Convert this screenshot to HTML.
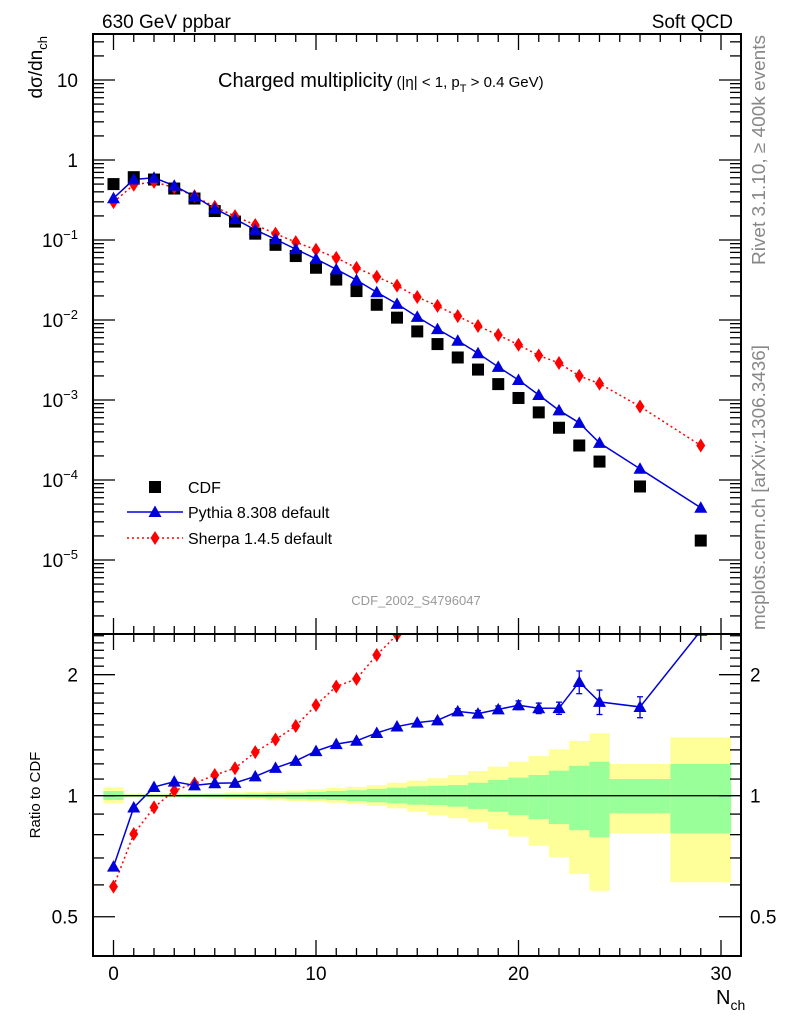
<!DOCTYPE html>
<html><head><meta charset="utf-8"><style>
body{margin:0;background:#fff;}
svg{display:block;font-family:"Liberation Sans",sans-serif;}
</style></head><body>
<svg id="c" width="786" height="1024" viewBox="0 0 786 1024">
<text x="102" y="28" font-size="19">630 GeV ppbar</text>
<text x="733" y="28" font-size="19" text-anchor="end">Soft QCD</text>
<text x="218" y="87" font-size="20">Charged multiplicity<tspan font-size="15" dx="4">(|η| &lt; 1, p</tspan><tspan font-size="11" dy="5">T</tspan><tspan font-size="15" dy="-5"> &gt; 0.4 GeV)</tspan></text>
<text transform="translate(42,36) rotate(-90)" font-size="19" text-anchor="end">dσ/dn<tspan font-size="13" dy="5">ch</tspan></text>
<text transform="translate(40,795) rotate(-90)" font-size="15" text-anchor="middle">Ratio to CDF</text>
<text transform="translate(765,265) rotate(-90)" font-size="18.5" fill="#888" textLength="230" lengthAdjust="spacingAndGlyphs">Rivet 3.1.10, ≥ 400k events</text>
<text transform="translate(765,630) rotate(-90)" font-size="18.5" fill="#888" textLength="285" lengthAdjust="spacingAndGlyphs">mcplots.cern.ch [arXiv:1306.3436]</text>
<text x="416" y="605" font-size="13" fill="#999" text-anchor="middle">CDF_2002_S4796047</text>
<text x="716" y="1004" font-size="20">N<tspan font-size="14" dy="6">ch</tspan></text>
<g id="g"></g>
</svg>
<script>
const nch=[0,1,2,3,4,5,6,7,8,9,10,11,12,13,14,15,16,17,18,19,20,21,22,23,24,26,29];
const cdf=[0.50,0.61,0.57,0.44,0.33,0.23,0.17,0.12,0.087,0.063,0.045,0.032,0.023,0.0155,0.0107,0.0072,0.0050,0.0034,0.0024,0.00158,0.00106,0.00070,0.00045,0.00027,0.00017,0.000083,0.0000175];
const pythia=[0.333,0.570,0.599,0.477,0.350,0.247,0.183,0.134,0.102,0.0769,0.0581,0.0430,0.0315,0.0222,0.0159,0.01094,0.0077,0.00551,0.00384,0.00259,0.00178,0.001155,0.000743,0.000518,0.000291,0.000138,0.000045];
const pythiaErr=[0.005,0.005,0.005,0.005,0.005,0.005,0.005,0.006,0.006,0.007,0.008,0.009,0.01,0.01,0.012,0.013,0.014,0.016,0.018,0.02,0.025,0.03,0.035,0.065,0.07,0.06,0];
const sherpa=[0.297,0.49,0.533,0.453,0.354,0.259,0.199,0.154,0.120,0.0939,0.0756,0.0598,0.0449,0.0347,0.0269,0.0194,0.0150,0.0112,0.0084,0.0065,0.0049,0.0036,0.0029,0.0020,0.0016,0.00083,0.00027];
const binLo=[-0.5,0.5,1.5,2.5,3.5,4.5,5.5,6.5,7.5,8.5,9.5,10.5,11.5,12.5,13.5,14.5,15.5,16.5,17.5,18.5,19.5,20.5,21.5,22.5,23.5,24.5,27.5];
const binHi=[0.5,1.5,2.5,3.5,4.5,5.5,6.5,7.5,8.5,9.5,10.5,11.5,12.5,13.5,14.5,15.5,16.5,17.5,18.5,19.5,20.5,21.5,22.5,23.5,24.5,27.5,30.5];
const yelUp=[1.049,1.012,1.012,1.012,1.014,1.016,1.019,1.022,1.026,1.031,1.037,1.045,1.052,1.062,1.077,1.09,1.105,1.126,1.152,1.181,1.215,1.255,1.305,1.369,1.43,1.199,1.397];
const yelDn=[0.957,0.99,0.99,0.99,0.988,0.985,0.982,0.978,0.974,0.97,0.966,0.96,0.952,0.943,0.93,0.912,0.895,0.879,0.859,0.826,0.791,0.751,0.703,0.639,0.58,0.806,0.609];
const grnUp=[1.027,1.006,1.006,1.007,1.008,1.009,1.01,1.012,1.015,1.018,1.022,1.027,1.032,1.04,1.047,1.055,1.058,1.063,1.077,1.094,1.109,1.126,1.154,1.187,1.215,1.10,1.199];
const grnDn=[0.976,0.994,0.994,0.993,0.992,0.991,0.99,0.988,0.985,0.982,0.98,0.975,0.97,0.963,0.957,0.95,0.948,0.939,0.927,0.912,0.895,0.875,0.85,0.821,0.788,0.904,0.806];
const xTicks=[0,10,20,30];
const yTickExp=[1,0,-1,-2,-3,-4,-5];
const rTicks=[0.5,1,2];

const L=93,R=741,T=34,MB=634,B=956;
const X=v=>113.5+v*20.25;
const Y=v=>160-80*Math.log10(v);
const RY=v=>795.7-402*Math.log10(v);
const g=document.getElementById('g');
const NS='http://www.w3.org/2000/svg';
function mk(t,a,p){const e=document.createElementNS(NS,t);for(const k in a)e.setAttribute(k,a[k]);(p||g).appendChild(e);return e;}
function txt(x,y,s,a){const e=mk('text',Object.assign({x:x,y:y,'font-size':19},a||{}));e.innerHTML=s;return e;}

const clip=mk('clipPath',{id:'rc'});mk('rect',{x:L,y:MB,width:R-L,height:B-MB},clip);
const rg=mk('g',{'clip-path':'url(#rc)'});
nch.forEach((n,i)=>{
  const b=mk('rect',{x:X(binLo[i]),y:RY(yelUp[i]),width:X(binHi[i])-X(binLo[i]),height:RY(yelDn[i])-RY(yelUp[i]),fill:'#ffff99'},rg);
  
  
  const c=mk('rect',{x:X(binLo[i]),y:RY(grnUp[i]),width:X(binHi[i])-X(binLo[i]),height:RY(grnDn[i])-RY(grnUp[i]),fill:'#99ff99'},rg);
  
  
});
mk('line',{x1:X(-0.5),x2:X(30.5),y1:RY(1),y2:RY(1),stroke:'#000','stroke-width':1.3},rg);

function tri(p,x,y,name){const e=mk('path',{d:`M${x},${y-6.5}L${x+6.5},${y+5}L${x-6.5},${y+5}Z`,fill:'#0000dd'},p);}
function dia(p,x,y,name){const e=mk('path',{d:`M${x},${y-7}L${x+4.5},${y}L${x},${y+7}L${x-4.5},${y}Z`,fill:'#ff0000'},p);}

const pr=nch.map((n,i)=>pythia[i]/cdf[i]), sr=nch.map((n,i)=>sherpa[i]/cdf[i]);
mk('polyline',{points:nch.map((n,i)=>X(n)+','+RY(sr[i])).join(' '),fill:'none',stroke:'#ff0000','stroke-width':1.5,'stroke-dasharray':'2,3'},rg);
mk('polyline',{points:nch.map((n,i)=>X(n)+','+RY(pr[i])).join(' '),fill:'none',stroke:'#0000dd','stroke-width':1.5},rg);
nch.forEach((n,i)=>{
  const e=pythiaErr[i]*pr[i];
  if(pythiaErr[i]>0.015){mk('line',{x1:X(n),x2:X(n),y1:RY(pr[i]+e),y2:RY(pr[i]-e),stroke:'#0000dd','stroke-width':1.3},rg);
   mk('line',{x1:X(n)-3,x2:X(n)+3,y1:RY(pr[i]+e),y2:RY(pr[i]+e),stroke:'#0000dd','stroke-width':1.3},rg);
   mk('line',{x1:X(n)-3,x2:X(n)+3,y1:RY(pr[i]-e),y2:RY(pr[i]-e),stroke:'#0000dd','stroke-width':1.3},rg);}
  dia(rg,X(n),RY(sr[i]),'sherpa-ratio-point');
  tri(rg,X(n),RY(pr[i]),'pythia-ratio-point');
});

mk('polyline',{points:nch.map((n,i)=>X(n)+','+Y(sherpa[i])).join(' '),fill:'none',stroke:'#ff0000','stroke-width':1.5,'stroke-dasharray':'2,3'});
mk('polyline',{points:nch.map((n,i)=>X(n)+','+Y(pythia[i])).join(' '),fill:'none',stroke:'#0000dd','stroke-width':1.5});
nch.forEach((n,i)=>{
  const s=mk('rect',{x:X(n)-6,y:Y(cdf[i])-6,width:12,height:12,fill:'#000'});
  
  
  dia(g,X(n),Y(sherpa[i]),'sherpa-point');
  tri(g,X(n),Y(pythia[i]),'pythia-point');
});

const lg=mk('g',{});


mk('rect',{x:149,y:481,width:12,height:12,fill:'#000'},lg);
txt(188,493,'CDF',{'font-size':16});
mk('line',{x1:127,x2:183,y1:512,y2:512,stroke:'#0000dd','stroke-width':1.5},lg);tri(lg,155,512,'legend-pythia-marker');
txt(188,518,'Pythia 8.308 default',{'font-size':16});
mk('line',{x1:127,x2:183,y1:538,y2:538,stroke:'#ff0000','stroke-width':1.5,'stroke-dasharray':'2,3'},lg);dia(lg,155,538,'legend-sherpa-marker');
txt(188,544,'Sherpa 1.4.5 default',{'font-size':16});

mk('rect',{x:L,y:T,width:R-L,height:MB-T,fill:'none',stroke:'#000','stroke-width':2});
mk('rect',{x:L,y:MB,width:R-L,height:B-MB,fill:'none',stroke:'#000','stroke-width':2});
const tk={stroke:'#000','stroke-width':1.3};
for(let v=-1;v<=31;v++){
  const x=X(v); if(x<L||x>R)continue;
  [[T,1],[MB,-1],[MB,1],[B,-1]].forEach(([y0,d])=>mk('line',Object.assign({x1:x,x2:x,y1:y0,y2:y0+d*(v%10===0?16:8)},tk)));
}
xTicks.forEach(v=>{const t=txt(X(v),980,String(v),{'text-anchor':'middle'});});
for(let e=-6;e<=1;e++){for(let m=1;m<=9;m++){const y=Y(m*Math.pow(10,e));if(y<T||y>MB)continue;const len=m===1?22:11;
  mk('line',Object.assign({x1:L,x2:L+len,y1:y,y2:y},tk));mk('line',Object.assign({x1:R,x2:R-len,y1:y,y2:y},tk));}}
yTickExp.forEach(e=>{const y=Y(Math.pow(10,e))+7;let t;
  if(e===1)t=txt(78,y,'10',{'text-anchor':'end'});else if(e===0)t=txt(78,y,'1',{'text-anchor':'end'});
  else{t=txt(78,y,'10<tspan font-size="13" dy="-8">−'+(-e)+'</tspan>',{'text-anchor':'end'});}
  });
for(let v=0.4;v<=2.55;v+=0.1){const y=RY(v);if(y<MB||y>B)continue;const maj=Math.abs(v-0.5)<1e-6||Math.abs(v-1)<1e-6||Math.abs(v-2)<1e-6;const len=maj?22:11;
  mk('line',Object.assign({x1:L,x2:L+len,y1:y,y2:y},tk));mk('line',Object.assign({x1:R,x2:R-len,y1:y,y2:y},tk));}
rTicks.forEach(v=>{const y=RY(v)+7;const a=txt(78,y,String(v),{'text-anchor':'end'});
  const b=txt(750,y,String(v));});
</script>
</body></html>
